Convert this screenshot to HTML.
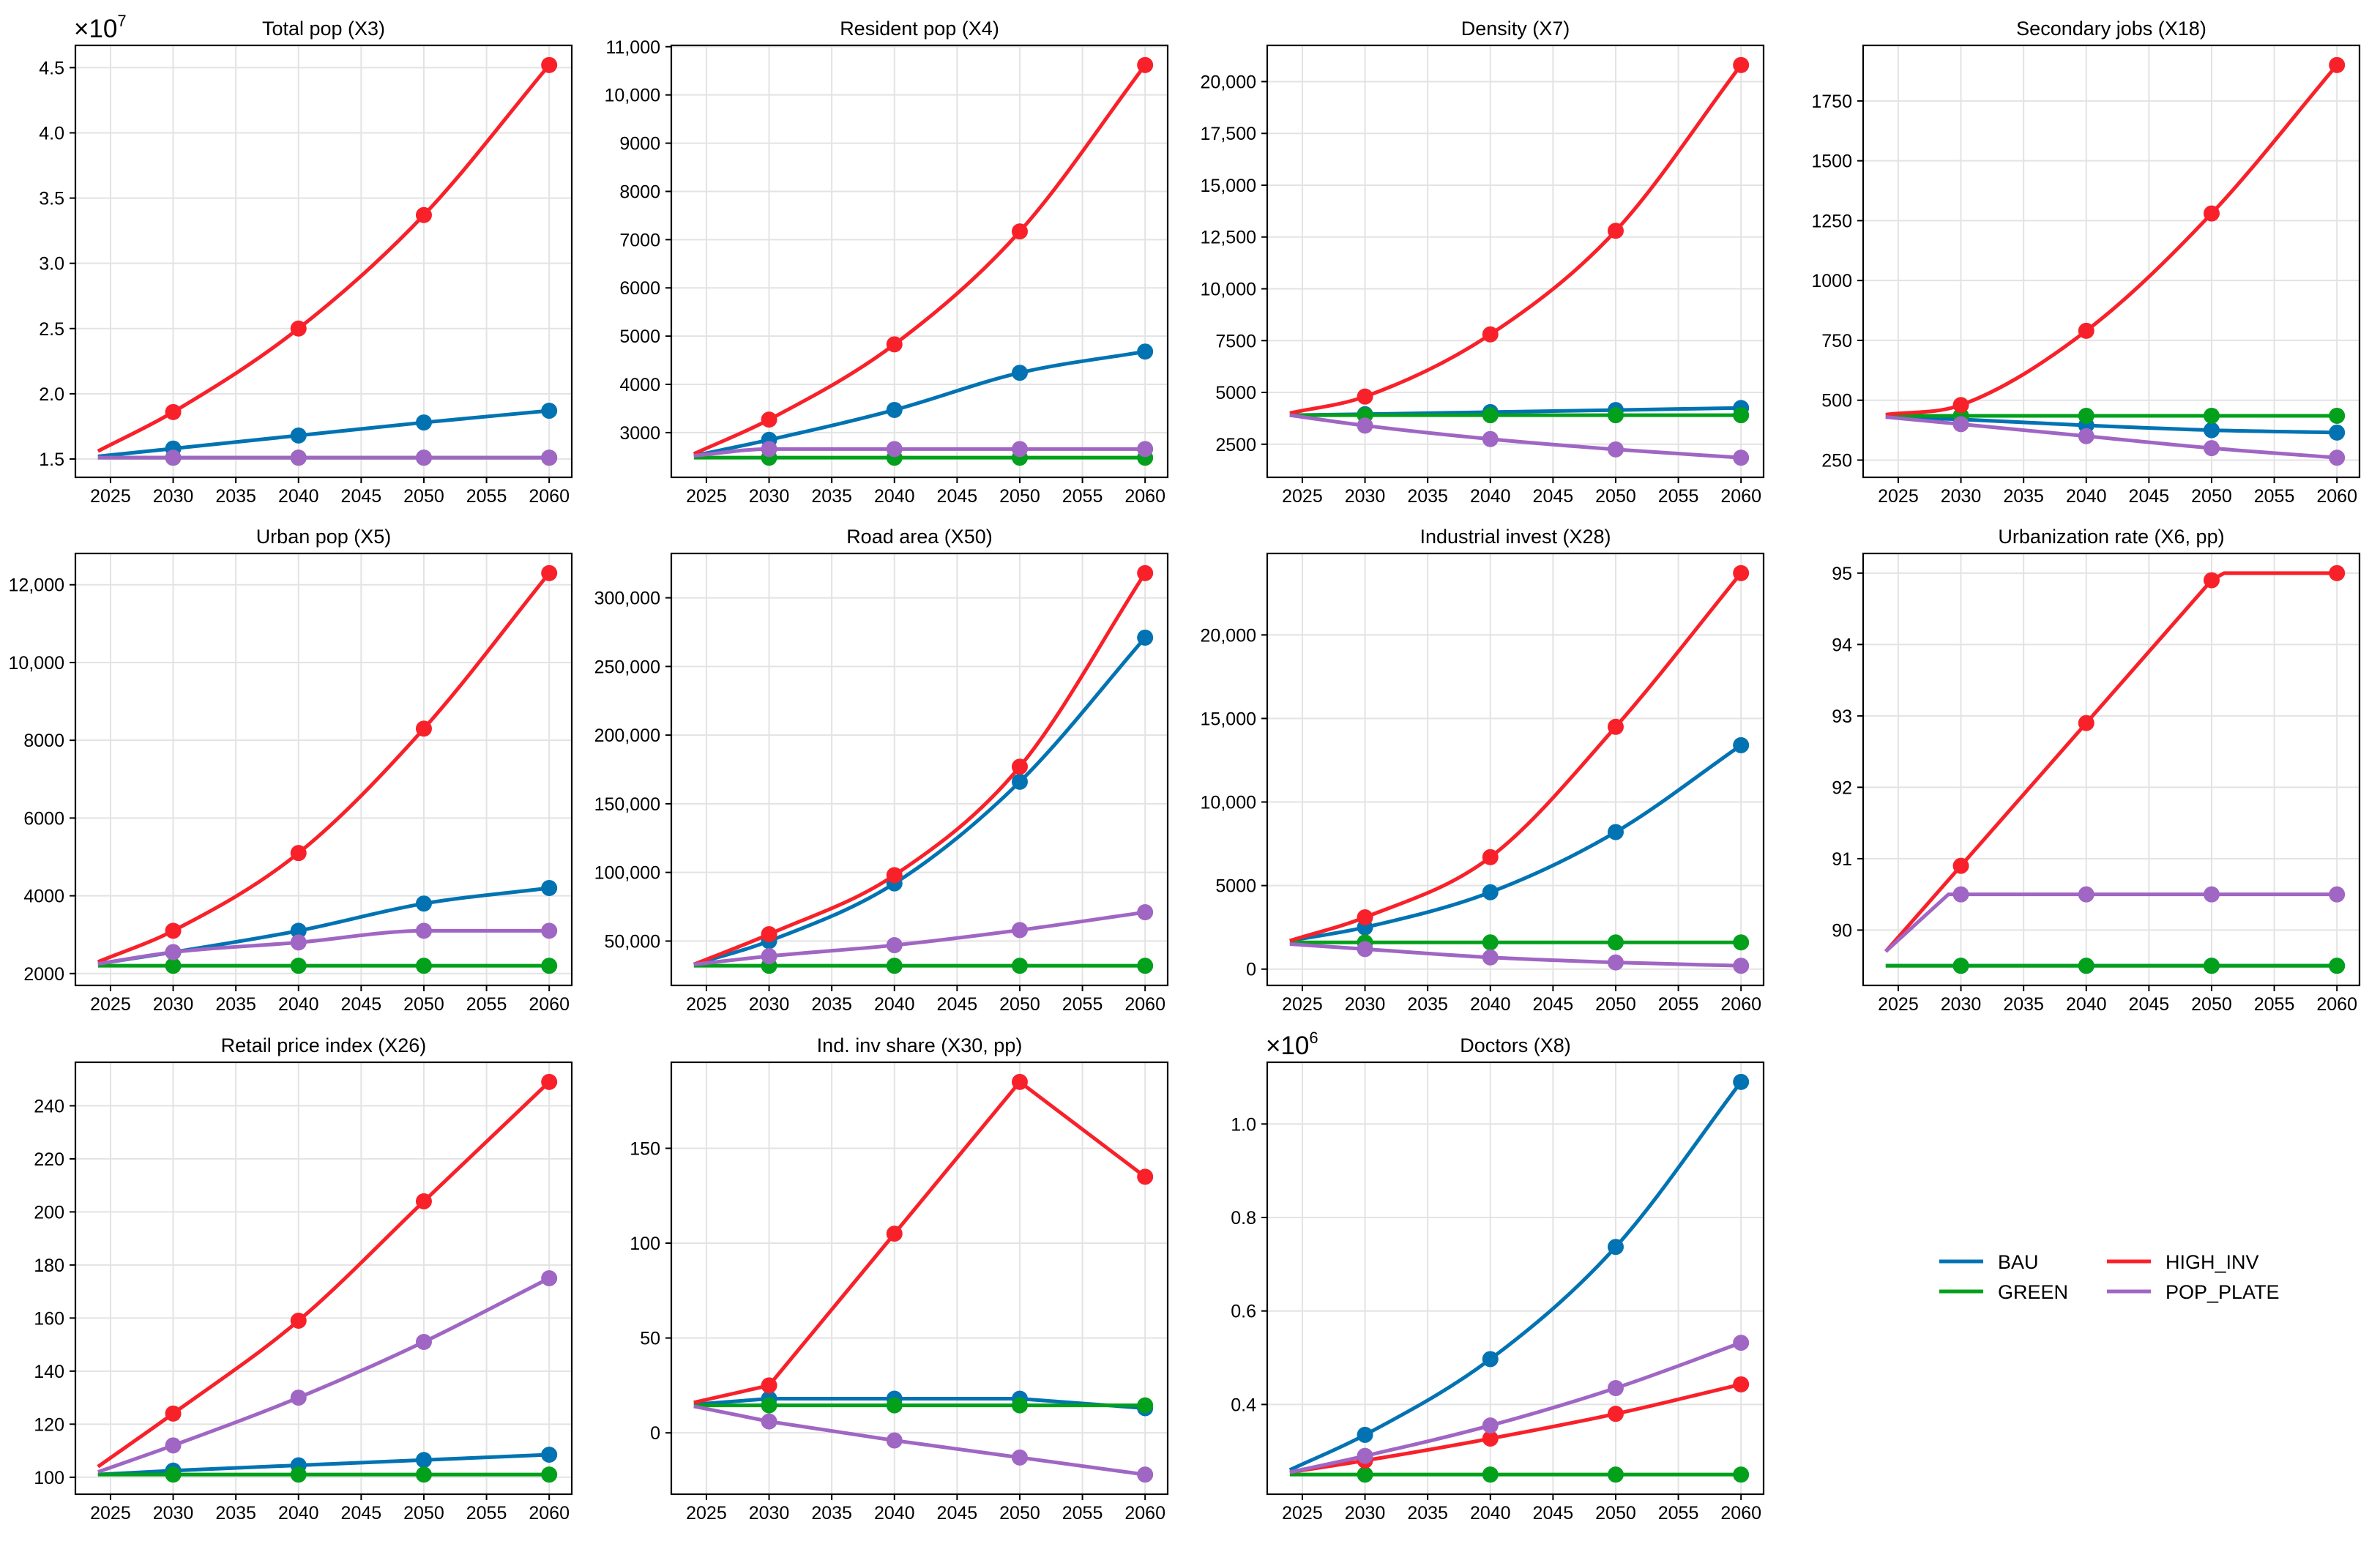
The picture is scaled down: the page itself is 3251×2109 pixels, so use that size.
<!DOCTYPE html>
<html><head><meta charset="utf-8"><style>
html,body{margin:0;padding:0;background:#fff;}
svg{display:block;font-family:"Liberation Sans",sans-serif;}
</style></head><body>
<svg id="fig" xmlns="http://www.w3.org/2000/svg" width="3251" height="2109" viewBox="0 0 3251 2109">
<rect width="3251" height="2109" fill="#fff"/>
</svg>
<script>
const years = [2024, 2030, 2040, 2050, 2060];
const xTicks = [2025, 2030, 2035, 2040, 2045, 2050, 2055, 2060];
const seriesNames = ["BAU", "GREEN", "HIGH_INV", "POP_PLATE"];

const totalPopBAU = [1.52, 1.58, 1.68, 1.78, 1.87];
const totalPopGREEN = [1.51, 1.51, 1.51, 1.51, 1.51];
const totalPopHIGH = [1.56, 1.86, 2.50, 3.37, 4.52];
const totalPopPOP = [1.51, 1.51, 1.51, 1.51, 1.51];
const totalPopTicks = [1.5, 2.0, 2.5, 3.0, 3.5, 4.0, 4.5];
const totalPopLabels = ["1.5", "2.0", "2.5", "3.0", "3.5", "4.0", "4.5"];

const residentBAU = [2520, 2850, 3470, 4240, 4680];
const residentGREEN = [2480, 2480, 2480, 2480, 2480];
const residentHIGH = [2560, 3270, 4830, 7170, 10620];
const residentPOP = [2520, 2660, 2660, 2660, 2660];
const residentTicks = [3000, 4000, 5000, 6000, 7000, 8000, 9000, 10000, 11000];
const residentLabels = ["3000", "4000", "5000", "6000", "7000", "8000", "9000", "10,000", "11,000"];

const densityBAU = [3900, 3950, 4050, 4150, 4250];
const densityGREEN = [3900, 3900, 3900, 3900, 3900];
const densityHIGH = [4000, 4800, 7800, 12800, 20800];
const densityPOP = [3900, 3400, 2750, 2250, 1850];
const densityTicks = [2500, 5000, 7500, 10000, 12500, 15000, 17500, 20000];
const densityLabels = ["2500", "5000", "7500", "10,000", "12,500", "15,000", "17,500", "20,000"];

const secJobsBAU = [430, 420, 395, 375, 365];
const secJobsGREEN = [435, 435, 435, 435, 435];
const secJobsHIGH = [440, 480, 790, 1280, 1900];
const secJobsPOP = [430, 400, 350, 300, 260];
const secJobsTicks = [250, 500, 750, 1000, 1250, 1500, 1750];
const secJobsLabels = ["250", "500", "750", "1000", "1250", "1500", "1750"];

const urbanBAU = [2250, 2550, 3100, 3800, 4200];
const urbanGREEN = [2200, 2200, 2200, 2200, 2200];
const urbanHIGH = [2300, 3100, 5100, 8300, 12300];
const urbanPOP = [2250, 2550, 2800, 3100, 3100];
const urbanTicks = [2000, 4000, 6000, 8000, 10000, 12000];
const urbanLabels = ["2000", "4000", "6000", "8000", "10,000", "12,000"];

const roadBAU = [33000, 50000, 92000, 166000, 271000];
const roadGREEN = [32000, 32000, 32000, 32000, 32000];
const roadHIGH = [33000, 55000, 98000, 177000, 318000];
const roadPOP = [33000, 39000, 47000, 58000, 71000];
const roadTicks = [50000, 100000, 150000, 200000, 250000, 300000];
const roadLabels = ["50,000", "100,000", "150,000", "200,000", "250,000", "300,000"];

const indInvBAU = [1700, 2500, 4600, 8200, 13400];
const indInvGREEN = [1600, 1600, 1600, 1600, 1600];
const indInvHIGH = [1700, 3100, 6700, 14500, 23700];
const indInvPOP = [1500, 1200, 700, 400, 200];
const indInvTicks = [0, 5000, 10000, 15000, 20000];
const indInvLabels = ["0", "5000", "10,000", "15,000", "20,000"];

const urbRateYears = [2024, 2029, 2030, 2040, 2050, 2051, 2060];
const urbRateBAU = [89.5, 89.5, 89.5, 89.5, 89.5, 89.5, 89.5];
const urbRateGREEN = [89.5, 89.5, 89.5, 89.5, 89.5, 89.5, 89.5];
const urbRateHIGH = [89.7, 90.7, 90.9, 92.9, 94.9, 95.0, 95.0];
const urbRatePOP = [89.7, 90.5, 90.5, 90.5, 90.5, 90.5, 90.5];
const urbRateTicks = [90, 91, 92, 93, 94, 95];
const urbRateLabels = ["90", "91", "92", "93", "94", "95"];

const retailBAU = [101, 102.5, 104.5, 106.5, 108.5];
const retailGREEN = [101, 101, 101, 101, 101];
const retailHIGH = [104, 124, 159, 204, 249];
const retailPOP = [102, 112, 130, 151, 175];
const retailTicks = [100, 120, 140, 160, 180, 200, 220, 240];
const retailLabels = ["100", "120", "140", "160", "180", "200", "220", "240"];

const shareBAU = [15, 18, 18, 18, 13];
const shareGREEN = [14.5, 14.5, 14.5, 14.5, 14.5];
const shareHIGH = [16, 25, 105, 185, 135];
const sharePOP = [14, 6, -4, -13, -22];
const shareTicks = [0, 50, 100, 150];
const shareLabels = ["0", "50", "100", "150"];

const doctorsBAU = [0.26, 0.335, 0.497, 0.737, 1.09];
const doctorsGREEN = [0.25, 0.25, 0.25, 0.25, 0.25];
const doctorsHIGH = [0.255, 0.28, 0.327, 0.38, 0.443];
const doctorsPOP = [0.255, 0.29, 0.355, 0.435, 0.532];
const doctorsTicks = [0.4, 0.6, 0.8, 1.0];
const doctorsLabels = ["0.4", "0.6", "0.8", "1.0"];

const colors = ["#0173b2", "#02a01b", "#f8212a", "#a066c4"];
const markerYears = [2030, 2040, 2050, 2060];
const colLeft = [103, 917, 1731, 2545];
const rowTop = [62, 756, 1451];
const PW = 678, PH = 590;

const panels = [
 {name:"total-pop", title:"Total pop (X3)", x:years, s:[totalPopBAU,totalPopGREEN,totalPopHIGH,totalPopPOP], t:totalPopTicks, l:totalPopLabels, mult:"7", smooth:true},
 {name:"resident-pop", title:"Resident pop (X4)", x:years, s:[residentBAU,residentGREEN,residentHIGH,residentPOP], t:residentTicks, l:residentLabels, smooth:true},
 {name:"density", title:"Density (X7)", x:years, s:[densityBAU,densityGREEN,densityHIGH,densityPOP], t:densityTicks, l:densityLabels, smooth:true},
 {name:"secondary-jobs", title:"Secondary jobs (X18)", x:years, s:[secJobsBAU,secJobsGREEN,secJobsHIGH,secJobsPOP], t:secJobsTicks, l:secJobsLabels, smooth:true},
 {name:"urban-pop", title:"Urban pop (X5)", x:years, s:[urbanBAU,urbanGREEN,urbanHIGH,urbanPOP], t:urbanTicks, l:urbanLabels, smooth:true},
 {name:"road-area", title:"Road area (X50)", x:years, s:[roadBAU,roadGREEN,roadHIGH,roadPOP], t:roadTicks, l:roadLabels, smooth:true},
 {name:"industrial-invest", title:"Industrial invest (X28)", x:years, s:[indInvBAU,indInvGREEN,indInvHIGH,indInvPOP], t:indInvTicks, l:indInvLabels, smooth:true},
 {name:"urbanization-rate", title:"Urbanization rate (X6, pp)", x:urbRateYears, s:[urbRateBAU,urbRateGREEN,urbRateHIGH,urbRatePOP], t:urbRateTicks, l:urbRateLabels, smooth:false},
 {name:"retail-price-index", title:"Retail price index (X26)", x:years, s:[retailBAU,retailGREEN,retailHIGH,retailPOP], t:retailTicks, l:retailLabels, smooth:true},
 {name:"ind-inv-share", title:"Ind. inv share (X30, pp)", x:years, s:[shareBAU,shareGREEN,shareHIGH,sharePOP], t:shareTicks, l:shareLabels, smooth:false},
 {name:"doctors", title:"Doctors (X8)", x:years, s:[doctorsBAU,doctorsGREEN,doctorsHIGH,doctorsPOP], t:doctorsTicks, l:doctorsLabels, mult:"6", smooth:true}
];

const NS = "http://www.w3.org/2000/svg";
const fig = document.getElementById("fig");
function mk(tag, attrs, parent){ const e=document.createElementNS(NS,tag); for(const k in attrs) e.setAttribute(k,attrs[k]); parent.appendChild(e); return e; }

function smoothPath(px, py){
  const n=px.length; if(n<3){return "M"+px.map((x,i)=>x+","+py[i]).join("L");}
  const d=[], m=new Array(n).fill(0);
  for(let i=0;i<n-1;i++) d.push((py[i+1]-py[i])/(px[i+1]-px[i]));
  m[0]=d[0]; m[n-1]=d[n-2];
  for(let i=1;i<n-1;i++){ m[i]=(d[i-1]*d[i]<=0)?0:(d[i-1]+d[i])/2; }
  for(let i=0;i<n-1;i++){ if(d[i]===0){m[i]=0;m[i+1]=0;continue;} const a=m[i]/d[i], b=m[i+1]/d[i], h=a*a+b*b; if(h>9){const t=3/Math.sqrt(h); m[i]=t*a*d[i]; m[i+1]=t*b*d[i];} }
  let s="M"+px[0]+","+py[0];
  for(let i=0;i<n-1;i++){ const h=(px[i+1]-px[i])/3; s+=" C"+(px[i]+h)+","+(py[i]+m[i]*h)+" "+(px[i+1]-h)+","+(py[i+1]-m[i+1]*h)+" "+px[i+1]+","+py[i+1]; }
  return s;
}

panels.forEach((p,idx)=>{
  const L=colLeft[idx%4], T=rowTop[Math.floor(idx/4)];
  const g=mk("g",{},fig);
  
  
  const xmin=Math.min(...p.x), xmax=Math.max(...p.x), xm=(xmax-xmin)*0.05;
  const all=[].concat(...p.s); let ymin=Math.min(...all), ymax=Math.max(...all); const ym=(ymax-ymin)*0.05; ymin-=ym; ymax+=ym;
  const X=v=>L+(v-(xmin-xm))/((xmax+xm)-(xmin-xm))*PW;
  const Y=v=>T+PH-(v-ymin)/(ymax-ymin)*PH;
  xTicks.forEach(t=>{ mk("line",{x1:X(t),x2:X(t),y1:T,y2:T+PH,stroke:"#e3e3e3","stroke-width":2},g); });
  p.t.forEach(t=>{ mk("line",{x1:L,x2:L+PW,y1:Y(t),y2:Y(t),stroke:"#e3e3e3","stroke-width":2},g); });
  p.s.forEach((vals,si)=>{
    const px=p.x.map(X), py=vals.map(Y);
    const d=p.smooth?smoothPath(px,py):"M"+px.map((x,i)=>x+","+py[i]).join("L");
    const path=mk("path",{d:d,fill:"none",stroke:colors[si],"stroke-width":5,"stroke-linejoin":"round"},g);
    
    
    p.x.forEach((yr,i)=>{ if(markerYears.indexOf(yr)>=0){
      const c=mk("circle",{cx:px[i],cy:py[i],r:11,fill:colors[si]},g);
      
      
    }});
  });
  mk("rect",{x:L,y:T,width:PW,height:PH,fill:"none",stroke:"#000","stroke-width":2.2},g);
  xTicks.forEach(t=>{
    mk("line",{x1:X(t),x2:X(t),y1:T+PH,y2:T+PH+8,stroke:"#000","stroke-width":2},g);
    const tx=mk("text",{x:X(t),y:T+PH+34,"font-size":25,"text-anchor":"middle",fill:"#000"},g); tx.textContent=t;
    
    
  });
  p.t.forEach((t,i)=>{
    mk("line",{x1:L-8,x2:L,y1:Y(t),y2:Y(t),stroke:"#000","stroke-width":2},g);
    const ty=mk("text",{x:L-15,y:Y(t)+9,"font-size":25,"text-anchor":"end",fill:"#000"},g); ty.textContent=p.l[i];
    
    
  });
  const tt=mk("text",{x:L+PW/2,y:T-14,"font-size":27,"text-anchor":"middle",fill:"#000"},g); tt.textContent=p.title;
  
  
  if(p.mult){
    const mt=mk("text",{x:L-2,y:T-11,"font-size":35,fill:"#000"},g);
    
    
    mt.textContent="×10";
    const sp=mk("tspan",{"font-size":22,dy:-15},mt); sp.textContent=p.mult;
  }
});

const lg=mk("g",{},fig);


const legPos=[[2649,1723],[2649,1764],[2878,1723],[2878,1764]];
seriesNames.forEach((nm,i)=>{
  const [lx,ly]=legPos[i];
  const ln=mk("line",{x1:lx,x2:lx+60,y1:ly,y2:ly,stroke:colors[i],"stroke-width":5},lg);
  
  
  const t=mk("text",{x:lx+80,y:ly+10,"font-size":27,fill:"#000"},lg); t.textContent=nm;
  
  
});
</script>
</body></html>
